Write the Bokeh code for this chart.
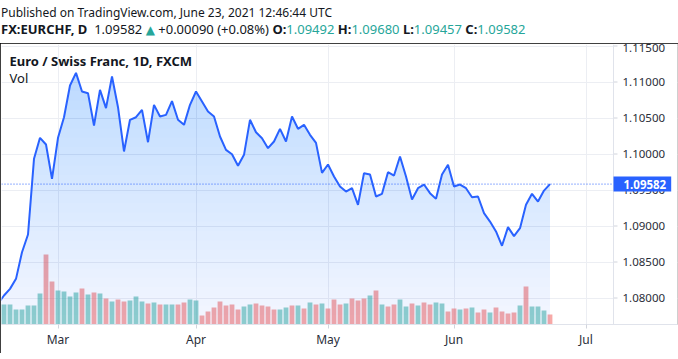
import numpy as np
import pandas as pd
from bokeh.plotting import figure
from bokeh.models import Range1d, FixedTicker, Span, Label, NumeralTickFormatter, Div
from bokeh.layouts import column
from bokeh.embed import file_html
from bokeh.resources import INLINE

# ---------------- data ----------------
first_day = "2021-02-15"
last_day = "2021-06-23"
axis_end_day = "2021-07-01"

close = [
    1.07919, 1.08035, 1.08127, 1.08266, 1.08636, 1.08882, 1.09933, 1.10225, 1.10132, 1.09655,
    1.10225, 1.10511, 1.10951, 1.11127, 1.10868, 1.10845, 1.10396, 1.10891, 1.10637, 1.11076,
    1.10650, 1.10035, 1.10475, 1.10511, 1.10613, 1.10164, 1.10683, 1.10521, 1.10544, 1.10734,
    1.10475, 1.10405, 1.10683, 1.10868, 1.10729, 1.10590, 1.10521, 1.10243, 1.10058, 1.09997,
    1.09836, 1.09989, 1.10475, 1.10303, 1.10220, 1.10081, 1.10174, 1.10350, 1.10174, 1.10521,
    1.10350, 1.10405, 1.10266, 1.10155, 1.09738, 1.09854, 1.09687, 1.09549, 1.09479, 1.09525,
    1.09294, 1.09734, 1.09715, 1.09410, 1.09447, 1.09748, 1.09701, 1.09965, 1.09687, 1.09368,
    1.09525, 1.09576, 1.09456, 1.09377, 1.09715, 1.09850, 1.09549, 1.09576, 1.09525, 1.09400,
    1.09410, 1.09178, 1.09062, 1.08924, 1.08725, 1.08984, 1.08859, 1.08970, 1.09294, 1.09447,
    1.09340, 1.09492, 1.09582,
]

volume = [
    20000, 20000, 20000, 15000, 15000, 19000, 19000, 31000, 70000, 43000,
    34000, 33000, 28000, 32000, 36000, 30000, 32000, 31000, 26000, 23000,
    25000, 23000, 24000, 28000, 23000, 21000, 22000, 20000, 20000, 20000,
    20000, 22000, 25000, 24000, 9000, 13000, 17000, 23000, 19000, 20000,
    15000, 18000, 20000, 21000, 19000, 18000, 15000, 15000, 17000, 19000,
    19000, 16000, 22000, 20000, 21000, 16000, 25000, 20000, 21000, 26000,
    24000, 26000, 29000, 34000, 20000, 18000, 20000, 25000, 18000, 21000,
    19000, 22000, 20000, 22000, 21000, 13000, 16000, 15000, 16000, 17000,
    12000, 15000, 12000, 17000, 13000, 11000, 12000, 19000, 38000, 18000,
    18000, 14000, 10000,
]

direction = list(
    "uuuuuuuuddu" "uuududududd" "uuududuuddu"
    "uddddddduud" "ddduududud" "udddudddudu"
    "dduududdu" "uddudu" "ddudddduduuudu" "u"
)

month_labels = ["Mar", "Apr", "May", "Jun", "Jul"]
price_ticks = [1.080, 1.085, 1.090, 1.095, 1.100, 1.105, 1.110, 1.115]
last_price = 1.09582

symbol = "FX:EURCHF, D"
change = "+0.00090 (+0.08%)"
ohlc = [("O", 1.09492), ("H", 1.09680), ("L", 1.09457), ("C", 1.09582)]
title_text = "Euro / Swiss Franc, 1D, FXCM"
published_text = "Published on TradingView.com, June 23, 2021 12:46:44 UTC"

# ---------------- derived ----------------
n = len(close)
direction = (direction + ["u"] * n)[:n]
xs = np.arange(n, dtype=float)
ext = pd.bdate_range(first_day, axis_end_day)
month_pos = [int(np.argmax(ext.month == m)) for m in [3, 4, 5, 6, 7]]

UP = "#26a69a"
DOWN = "#ef5350"
BLUE = "#2962FF"
TXT = "#131722"
AX_TXT = "#2a2e39"
FONT = "Noto Sans"

y_lo, y_hi = 1.07632, 1.11521
x_lo = 0.5833
bar_px = 6.0
sep_x = x_lo + 612 / bar_px      # right end of the plotting area (price scale starts here)
x_hi = x_lo + 676 / bar_px

W = 678
H_HDR = 43
H_MAIN = 310

# ---------------- header (HTML text) ----------------
ohlc_html = " ".join(
    f'<b>{k}:</b><span style="color:{UP}">{v:.5f}</span>' for k, v in ohlc
)
hdr_html = (
    f'<div style="font-family:\'{FONT}\';font-size:12px;color:{TXT};line-height:17px;'
    f'padding:4px 0 0 1px;white-space:nowrap;">'
    f'{published_text}<br>'
    f'<span style="font-size:13px;"><b>{symbol}</b>&nbsp; {last_price:.5f} '
    f'<span style="color:{UP};font-family:\'DejaVu Sans\';font-size:12px;">&#9650;</span> '
    f'{change} {ohlc_html}</span></div>'
)
hdr = Div(text=hdr_html, width=W, height=H_HDR, margin=0)

# ---------------- main chart ----------------
p = figure(width=W, height=H_MAIN, x_range=Range1d(x_lo, x_hi),
           y_range=Range1d(y_lo, y_hi), y_axis_location="right",
           toolbar_location=None, output_backend="svg",
           min_border_left=1, min_border_top=1, min_border_right=1, min_border_bottom=29)
p.extra_y_ranges = {"vol": Range1d(0, 280000)}
p.outline_line_color = None
p.styles = {"outline": "1px solid #000000", "outline-offset": "-1px"}

# grid
p.xgrid.ticker = FixedTicker(ticks=month_pos)
p.ygrid.ticker = FixedTicker(ticks=price_ticks)
p.grid.grid_line_color = "#eceef3"

# volume
vcolors = [UP if d == "u" else DOWN for d in direction]
p.vbar(x=xs, top=volume, bottom=0, width=0.8, y_range_name="vol",
       fill_color=vcolors, fill_alpha=0.5, line_color=None)

# gradient area via stacked translucent layers
def clamp(xv, yv, t):
    ox, oy = [], []
    for i in range(len(xv)):
        if i > 0 and (yv[i - 1] - t) * (yv[i] - t) < 0:
            f = (t - yv[i - 1]) / (yv[i] - yv[i - 1])
            ox.append(xv[i - 1] + f * (xv[i] - xv[i - 1]))
            oy.append(t)
        ox.append(xv[i])
        oy.append(max(yv[i], t))
    return np.array(ox), np.array(oy)

K = 30
levels = np.linspace(y_lo, y_hi, K + 1)[:-1]
a_bot, a_top = 0.05, 0.28
cum_prev = 0.0
for k, t in enumerate(levels):
    cum = a_bot + (a_top - a_bot) * (k + 0.5) / K
    a = 1 - (1 - cum) / (1 - cum_prev)
    cum_prev = cum
    cx, cy = clamp(xs, close, t)
    p.varea(x=cx, y1=np.full(len(cx), t), y2=cy, fill_color=BLUE, fill_alpha=a)

p.line(xs, close, line_color=BLUE, line_width=2)

# last-price dotted line across the plotting area
p.segment(x0=[x_lo], y0=[last_price], x1=[sep_x], y1=[last_price],
          line_color=BLUE, line_width=1, line_dash="1 2")

# price-scale column: white background, separator, short ticks
p.quad(left=[sep_x], right=[x_hi], bottom=[y_lo], top=[y_hi],
       fill_color="white", line_color=None)
p.add_layout(Span(location=sep_x, dimension="height", line_color="#e0e3eb", line_width=1))
p.segment(x0=[sep_x] * len(price_ticks), x1=[sep_x + 4 / bar_px] * len(price_ticks),
          y0=price_ticks, y1=price_ticks, line_color="#d1d4dc", line_width=1)

# price axis (labels drawn back inside the price column)
ya = p.yaxis[0]
ya.ticker = FixedTicker(ticks=price_ticks)
ya.formatter = NumeralTickFormatter(format="0.00000")
ya.major_tick_out = 0
ya.major_tick_in = 0
ya.minor_tick_line_color = None
ya.axis_line_color = None
ya.major_label_standoff = -55
ya.major_label_text_font = FONT
ya.major_label_text_font_size = "11.5px"
ya.major_label_text_color = AX_TXT

xa = p.xaxis[0]
xa.ticker = FixedTicker(ticks=month_pos)
xa.major_label_overrides = {pos: lbl for pos, lbl in zip(month_pos, month_labels)}
xa.major_tick_out = 4
xa.major_tick_in = 0
xa.minor_tick_line_color = None
xa.major_tick_line_color = "#d1d4dc"
xa.axis_line_color = "#e0e3eb"
xa.major_label_standoff = 2
xa.major_label_text_font = FONT
xa.major_label_text_font_size = "12px"
xa.major_label_text_color = AX_TXT

# legend texts (screen units relative to the plot frame, origin bottom-left)
p.add_layout(Label(x=8, y=264, x_units="screen", y_units="screen", text=title_text,
                   text_font=FONT, text_font_size="13px", text_font_style="bold",
                   text_color=TXT, text_baseline="middle"))
p.add_layout(Label(x=8, y=247, x_units="screen", y_units="screen", text="Vol",
                   text_font=FONT, text_font_size="13px", text_color=TXT,
                   text_baseline="middle"))

# last price badge on the price scale
p.add_layout(Label(x=sep_x, y=last_price, x_offset=0, text=f"{last_price:.5f}",
                   text_font=FONT, text_font_size="11.5px", text_font_style="bold",
                   text_color="white", text_baseline="middle",
                   background_fill_color=BLUE,
                   padding=dict(left=10, right=5, top=3, bottom=3)))

layout = column(hdr, p, spacing=0)
open("out.html", "w").write(file_html(layout, INLINE))
